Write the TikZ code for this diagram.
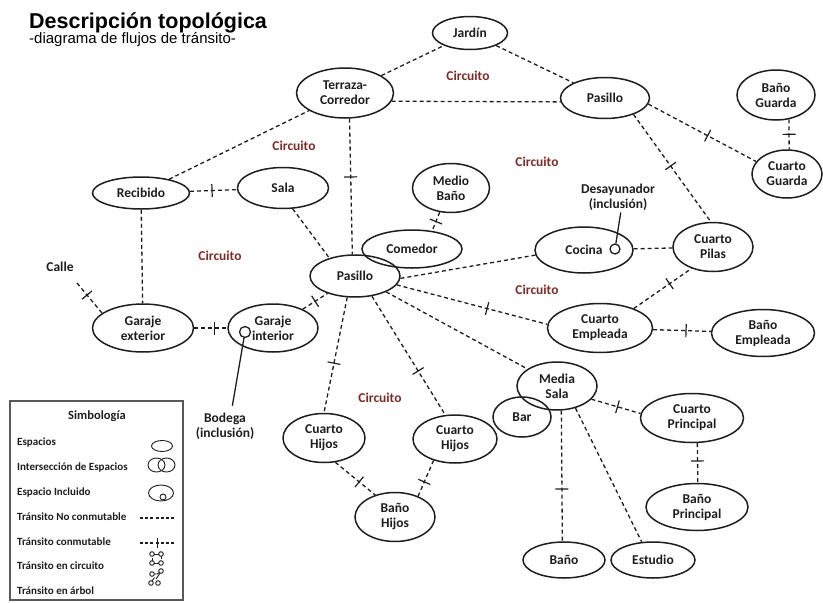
\documentclass[tikz,border=0pt]{standalone}
\usepackage{fontspec}
\setmainfont{Carlito}
\newfontfamily\headfont{Liberation Sans}
\usetikzlibrary{shapes.geometric,decorations.markings}
\definecolor{circred}{RGB}{128,42,38}
\definecolor{ink}{RGB}{30,30,30}
\begin{document}
\begin{tikzpicture}[x=1pt,y=-1pt,
  room/.style args={#1x#2}{ellipse, draw=ink, line width=1.5pt, inner sep=0pt,
    minimum width=#1pt, minimum height=#2pt, align=center,
    font=\fontsize{13.5}{15}\selectfont\bfseries, text=ink},
  lbl/.style={align=center, inner sep=2pt, font=\fontsize{13.5}{15}\selectfont\bfseries, text=ink},
  circ/.style={text=circred, font=\fontsize{13.5}{15}\selectfont\bfseries},
  flow/.style={line width=1.3pt, dash pattern=on 4pt off 3pt, draw=ink},
  tk/.style={postaction={decorate,decoration={markings,
    mark=at position #1 with {\draw[solid,line width=1.2pt,ink] (0pt,-6.5pt) -- (0pt,6.5pt);}}}},
  lead/.style={line width=1.3pt, draw=ink},
  lg/.style={anchor=west, inner sep=0pt, font=\fontsize{11}{12}\selectfont\bfseries, text=ink},
  sym/.style={line width=0.9pt, draw=ink}]

% canvas
\fill[white] (0,0) rectangle (823,603);
\useasboundingbox (0,0) rectangle (823,603);

% heading
\node[anchor=base west, inner sep=0pt, font=\headfont\fontsize{21.5}{24}\selectfont\bfseries] (title) at (29,28) {Descripción topológica};
\node[anchor=base west, inner sep=0pt, font=\headfont\fontsize{15}{17}\selectfont] (subtitle) at (29,43) {-diagrama de flujos de tránsito-};

% spaces
\node[room=97x50]  (ter)  at (345,93)  {Terraza-\\Corredor};
\node[room=75x33]  (jar)  at (470,33)  {Jardín};
\node[room=89x41]  (pst)  at (605,98)  {Pasillo};
\node[room=78x50]  (bg)   at (776,95)  {Baño\\Guarda};
\node[room=70x48]  (cg)   at (787,174) {Cuarto\\Guarda};
\node[room=97x32]  (rec)  at (141,193) {Recibido};
\node[room=91x41]  (sala) at (283,188) {Sala};
\node[room=77x49]  (mb)   at (451,188) {Medio\\Baño};
\node[room=100x38] (com)  at (412,249) {Comedor};
\node[room=90x42]  (pas)  at (355,276) {Pasillo};
\node[room=98x46]  (coc)  at (584,250) {Cocina};
\node[room=80x49]  (cpil) at (713,247) {Cuarto\\Pilas};
\node[room=105x49] (ce)   at (600,328) {Cuarto\\Empleada};
\node[room=103x47] (be)   at (763,333) {Baño\\Empleada};
\node[room=101x48] (gext) at (143,328) {Garaje\\exterior};
\node[room=90x48]  (gint) at (273,328) {Garaje\\interior};
\node[room=80x48]  (ms)   at (557,386) {Media\\Sala};
\node[room=58x40]  (bar)  at (522,417) {Bar};
\node[room=103x49] (cp)   at (692,418) {Cuarto\\Principal};
\node[room=102x47] (bp)   at (697,507) {Baño\\Principal};
\node[room=82x36]  (bn)   at (564,560) {Baño};
\node[room=84x36]  (est)  at (653,560) {Estudio};
\node[room=82x49]  (chL)  at (324,438) {Cuarto\\Hijos};
\node[room=84x48]  (chR)  at (455,439) {Cuarto\\Hijos};
\node[room=80x49]  (bh)   at (395,517) {Baño\\Hijos};

% included spaces and their labels
\node[circle, draw=ink, line width=1.3pt, inner sep=0pt, minimum size=11pt] (bod) at (245,332) {};
\node[circle, draw=ink, line width=1.3pt, inner sep=0pt, minimum size=10pt] (dsy) at (615,249) {};
\node[lbl, outer sep=5pt] (bodtxt) at (225,426) {Bodega\\(inclusión)};
\node[lbl] (des) at (618,197) {Desayunador\\(inclusión)};
\draw[lead] (bod) -- (bodtxt.70);
\draw[lead] (des.-80) -- (dsy);

% street access
\node[lbl] (calle) at (60,267) {Calle};
\coordinate (calleEnd) at (77,283);

% circuit labels
\node[circ] (c1) at (294,146) {Circuito};
\node[circ] (c2) at (468,76)  {Circuito};
\node[circ] (c3) at (537,162) {Circuito};
\node[circ] (c4) at (220,256) {Circuito};
\node[circ] (c5) at (537,290) {Circuito};
\node[circ] (c6) at (380,398) {Circuito};

% transit flows
\draw[flow] (ter) -- (jar);
\draw[flow] (jar) -- (pst);
\draw[flow] (ter.-10) -- (pst.185);
\draw[flow] (rec) -- (ter);
\draw[flow,tk=.43] (ter.-80) -- (pas.97);
\draw[flow,tk=.47] (rec) -- (sala);
\draw[flow] (rec) -- (gext);
\draw[flow,tk=.4] (calleEnd) -- (gext.160);
\draw[flow,tk=.62] (gext) -- (gint);
\draw[flow,tk=.5] (gint) -- (pas);
\draw[flow] (sala.-65) -- (pas.145);
\draw[flow,tk=.5] (mb.-115) -- (com.42);
\draw[flow] (pas.-3) -- (coc.186);
\draw[flow,tk=.6] (pas.-12) -- (ce.176);
\draw[flow] (pas.-27) -- (ms.150);
\draw[flow,tk=.57] (pas.-110) -- (chL.north);
\draw[flow,tk=.63] (pas.-50) -- (chR.112);
\draw[flow,tk=.6] (chL.-65) -- (bh.132);
\draw[flow,tk=.6] (chR.-135) -- (bh.42);
\draw[flow,tk=.48] (pst.-30) -- (cpil.95);
\draw[flow,tk=.55] (pst.-8) -- (cg.158);
\draw[flow,tk=.5] (bg.-62) -- (cg.85);
\draw[flow] (coc) -- (cpil);
\draw[flow,tk=.62] (ce.30) -- (cpil.-135);
\draw[flow,tk=.57] (ce) -- (be);
\draw[flow,tk=.53] (ms.-21) -- (cp.175);
\draw[flow,tk=.45] (cp.-78) -- (bp.88);
\draw[flow,tk=.6] (ms.-80) -- (bn.95);
\draw[flow] (ms.-50) -- (est.122);

% legend
\draw[line width=1.4pt, draw=black!65] (10,401) rectangle (183,600);
\node[font=\fontsize{12.5}{14}\selectfont\bfseries, text=ink] (lgtitle) at (97,416) {Simbología};
\node[lg] (lg1) at (17,442) {Espacios};
\node[lg] (lg2) at (17,467) {Intersección de Espacios};
\node[lg] (lg3) at (17,492) {Espacio Incluido};
\node[lg] (lg4) at (17,517) {Tránsito No conmutable};
\node[lg] (lg5) at (17,542) {Tránsito conmutable};
\node[lg] (lg6) at (17,566) {Tránsito en circuito};
\node[lg] (lg7) at (17,591) {Tránsito en árbol};

\draw[sym] (162,446) ellipse [x radius=10.5pt, y radius=5.5pt];
\draw[sym] (156.5,465) ellipse [x radius=8.5pt, y radius=7pt];
\draw[sym] (166.5,465) ellipse [x radius=8.5pt, y radius=7pt];
\draw[sym] (161,493) ellipse [x radius=12.5pt, y radius=8pt];
\draw[sym] (163,497) circle [radius=3pt];
\draw[line width=1.1pt, draw=ink, dash pattern=on 3pt off 2.2pt] (140,518) -- (176,518);
\draw[line width=1.1pt, draw=ink, dash pattern=on 3pt off 2.2pt] (140,543) -- (176,543);
\draw[sym] (157,538) -- (157,548);
% circuit glyph
\foreach \p in {(152,554),(161,554),(152,563),(161,563)} \draw[sym] \p circle [radius=2.3pt];
\draw[sym] (154.3,554) -- (158.7,554);
\draw[sym] (161,556.3) -- (161,559);
\draw[sym] (152,560.7) -- (152,558);
\draw[sym] (154.3,563) -- (158.7,563);
% tree glyph
\foreach \p in {(152,574),(161,571),(151,583),(158,583)} \draw[sym] \p circle [radius=2.3pt];
\draw[sym] (154.3,574) -- (157,574) -- (159.5,572.5);
\draw[sym] (160,573.2) -- (156,579);
\draw[sym] (152.2,580.8) -- (154.5,577.5);
\end{tikzpicture}
\end{document}
